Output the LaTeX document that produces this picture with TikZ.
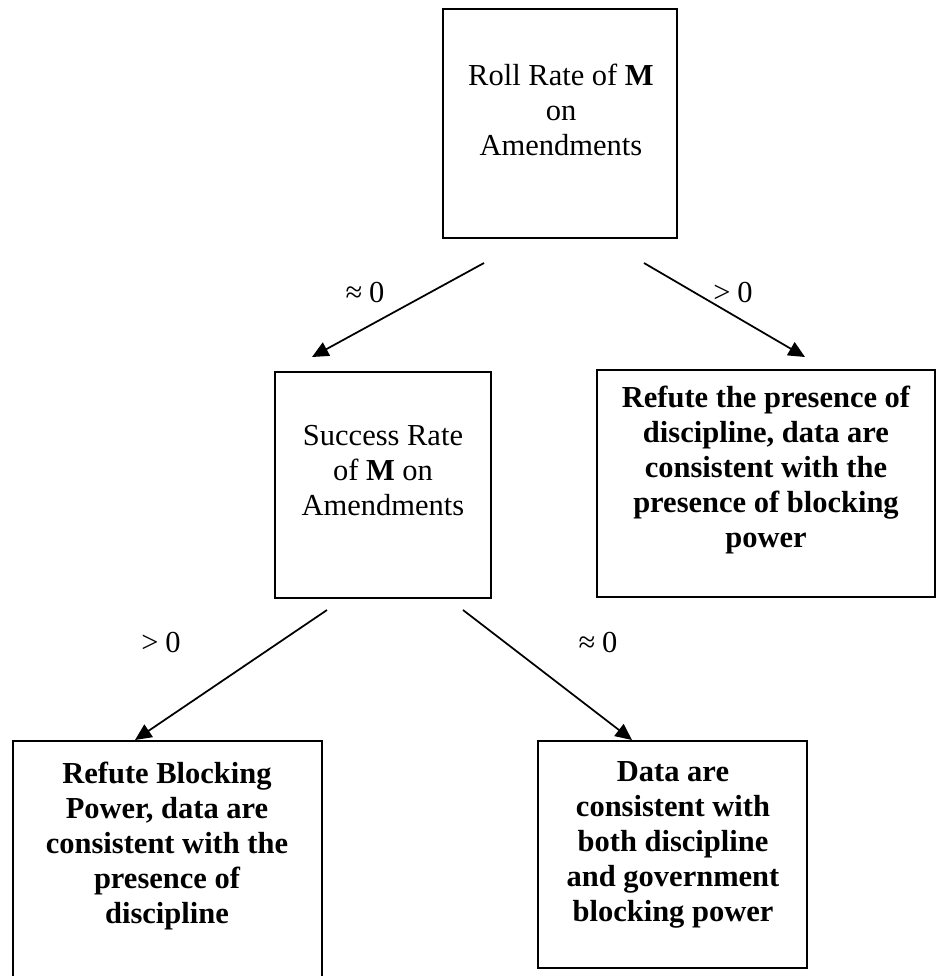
\documentclass[tikz,border=0pt]{standalone}
\usepackage{fontspec}
\setmainfont{Liberation Serif}
\usetikzlibrary{arrows.meta,fit}
\begin{document}
\begin{tikzpicture}[x=0.4pt,y=-0.4pt,
  panel/.style={draw, line width=1pt, inner sep=0pt},
  caption/.style={align=center, inner sep=0pt, anchor=north,
    font=\fontsize{12.2}{14}\selectfont},
  strong/.style={caption, font=\fontsize{12.2}{14}\selectfont\bfseries},
  link/.style={line width=0.7pt, -{Triangle[length=6.6pt,width=6pt]}},
  cond/.style={inner sep=0pt, font=\fontsize{12.2}{14}\selectfont}]
\useasboundingbox (0,0) rectangle (937,976);

% boxes
\node[panel, fit={(443,9) (677,238)}] (roll) {};
\node[panel, fit={(275,372) (491,598)}] (succ) {};
\node[panel, fit={(597,370) (935,597)}] (refdisc) {};
\node[panel, fit={(13,741) (322,990)}] (refblock) {};
\node[panel, fit={(538,741) (807,968)}] (both) {};

% box texts
\node[caption] (rolltxt) at (561,64) {Roll Rate of \textbf{M}\\on\\Amendments};
\node[caption] (succtxt) at (383,425) {Success Rate\\of \textbf{M} on\\Amendments};
\node[strong] (refdisctxt) at (766,386) {Refute the presence of\\discipline, data are\\consistent with the\\presence of blocking\\power};
\node[strong] (refblocktxt) at (167,762) {Refute Blocking\\Power, data are\\consistent with the\\presence of\\discipline};
\node[strong] (bothtxt) at (673,761) {Data are\\consistent with\\both discipline\\and government\\blocking power};

% arrow ends
\coordinate (s1) at (484,263);
\coordinate (e1) at (312,357);
\coordinate (s2) at (644,263);
\coordinate (e2) at (805,357);
\coordinate (s3) at (327,610);
\coordinate (e3) at (135,740);
\coordinate (s4) at (463,610);
\coordinate (e4) at (632,740);

\draw[link] (s1) -- (e1);
\draw[link] (s2) -- (e2);
\draw[link] (s3) -- (e3);
\draw[link] (s4) -- (e4);

% branch conditions
\node[cond] (c1) at (365,292) {≈\hspace{0.22em}0};
\node[cond] (c2) at (733,292) {>\hspace{0.22em}0};
\node[cond] (c3) at (161,642) {>\hspace{0.22em}0};
\node[cond] (c4) at (598,642) {≈\hspace{0.22em}0};
\end{tikzpicture}
\end{document}
